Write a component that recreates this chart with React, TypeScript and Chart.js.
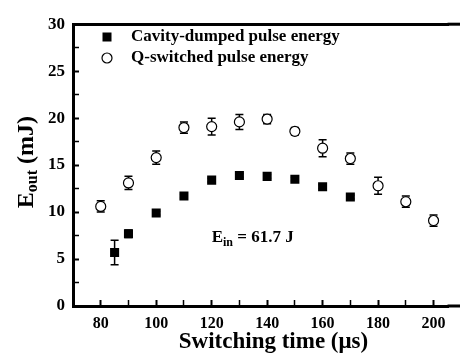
import React, { useEffect, useRef } from "react";
import { Chart, registerables } from "chart.js";
Chart.register(...registerables);

const FONT = "'Liberation Serif', 'Times New Roman', serif";

// Cavity-dumped pulse energy (filled squares)
const dumpedTimes = [85, 90, 100, 110, 120, 130, 140, 150, 160, 170];
const dumpedEnergy = [5.7, 7.7, 9.9, 11.7, 13.4, 13.9, 13.8, 13.5, 12.7, 11.6];
const dumpedError = [1.3, 0.4, 0.2, 0.2, 0.2, 0.2, 0.2, 0.2, 0.2, 0.2];

// Q-switched pulse energy (open circles)
const qTimes = [80, 90, 100, 110, 120, 130, 140, 150, 160, 170, 180, 190, 200];
const qEnergy = [10.6, 13.1, 15.8, 19.0, 19.1, 19.6, 19.9, 18.6, 16.8, 15.7, 12.8, 11.1, 9.1];
const qError = [0.6, 0.7, 0.7, 0.6, 0.9, 0.8, 0.5, 0.4, 0.9, 0.6, 0.9, 0.6, 0.6];

const xTickValues = [80, 100, 120, 140, 160, 180, 200];
const xMinorValues = [90, 110, 130, 150, 170, 190];
const yTickValues = [0, 5, 10, 15, 20, 25, 30];
const yMinorValues = [2.5, 7.5, 12.5, 17.5, 22.5, 27.5];

const legendLabels = ["Cavity-dumped pulse energy", "Q-switched pulse energy"];
const xTitle = "Switching time (\u03bcs)";
const yTitleMain = "E";
const yTitleSub = "out";
const yTitleRest = " (mJ)";
const noteMain = "E";
const noteSub = "in";
const noteRest = " = 61.7 J";
const noteX = 120;
const noteY = 7.3;

const X_MIN = 70;
const X_MAX = 205.4;

const customPlugin = {
  id: "custom",
  beforeDatasetsDraw(chart: any) {
    const ctx = chart.ctx;
    const x = chart.scales.x;
    const y = chart.scales.y;
    ctx.save();
    ctx.strokeStyle = "#000";
    ctx.lineWidth = 1.5;
    const drawErr = (xs: number[], ys: number[], es: number[]) => {
      for (let i = 0; i < xs.length; i++) {
        const px = x.getPixelForValue(xs[i]);
        const t = y.getPixelForValue(ys[i] + es[i]);
        const b = y.getPixelForValue(ys[i] - es[i]);
        ctx.beginPath();
        ctx.moveTo(px, t);
        ctx.lineTo(px, b);
        ctx.moveTo(px - 4, t);
        ctx.lineTo(px + 4, t);
        ctx.moveTo(px - 4, b);
        ctx.lineTo(px + 4, b);
        ctx.stroke();
      }
    };
    drawErr(dumpedTimes, dumpedEnergy, dumpedError);
    drawErr(qTimes, qEnergy, qError);
    ctx.restore();
  },
  afterDraw(chart: any) {
    const ctx = chart.ctx;
    const x = chart.scales.x;
    const y = chart.scales.y;
    const ca = chart.chartArea;
    const W = chart.width;
    ctx.save();
    ctx.fillStyle = "#000";
    ctx.strokeStyle = "#000";

    // extend top and bottom frame lines to the canvas edge
    ctx.fillRect(ca.right - 1, ca.top - 1.5, W - ca.right + 1, 3);
    ctx.fillRect(ca.right - 1, ca.bottom - 1.5, W - ca.right + 1, 3);

    // legend
    ctx.fillRect(107 - 4.5, 37 - 4.5, 9, 9);
    ctx.lineWidth = 1.2;
    ctx.beginPath();
    ctx.arc(107, 58, 5, 0, Math.PI * 2);
    ctx.stroke();
    ctx.font = `bold 17px ${FONT}`;
    ctx.textBaseline = "middle";
    ctx.textAlign = "left";
    ctx.fillText(legendLabels[0], 131, 37);
    ctx.fillText(legendLabels[1], 131, 58);

    // annotation E_in = 61.7 J
    const ax = x.getPixelForValue(noteX);
    const ay = y.getPixelForValue(noteY);
    ctx.font = `bold 17px ${FONT}`;
    ctx.textBaseline = "alphabetic";
    ctx.fillText(noteMain, ax, ay + 5);
    let w = ctx.measureText(noteMain).width;
    ctx.font = `bold 12px ${FONT}`;
    ctx.fillText(noteSub, ax + w, ay + 9);
    w += ctx.measureText(noteSub).width;
    ctx.font = `bold 17px ${FONT}`;
    ctx.fillText(noteRest, ax + w, ay + 5);

    // x title
    ctx.font = `bold 23px ${FONT}`;
    ctx.textAlign = "center";
    ctx.textBaseline = "middle";
    ctx.fillText(xTitle, (ca.left + W) / 2 + 7, 342);

    // y title (rotated)
    ctx.translate(27, (ca.top + ca.bottom) / 2 - 3);
    ctx.rotate(-Math.PI / 2);
    ctx.textAlign = "left";
    ctx.textBaseline = "middle";
    ctx.font = `bold 24px ${FONT}`;
    const w1 = ctx.measureText(yTitleMain).width;
    const w3 = ctx.measureText(yTitleRest).width;
    ctx.font = `bold 16px ${FONT}`;
    const w2 = ctx.measureText(yTitleSub).width;
    const total = w1 + w2 + w3;
    let cx = -total / 2;
    ctx.font = `bold 24px ${FONT}`;
    ctx.fillText(yTitleMain, cx, 0);
    cx += w1;
    ctx.font = `bold 16px ${FONT}`;
    ctx.fillText(yTitleSub, cx, 6);
    cx += w2;
    ctx.font = `bold 24px ${FONT}`;
    ctx.fillText(yTitleRest, cx, 0);
    ctx.restore();
  },
};

const allX = [...xTickValues, ...xMinorValues].sort((a, b) => a - b);
const allY = [...yTickValues, ...yMinorValues].sort((a, b) => a - b);

export default function App() {
  const ref = useRef<HTMLCanvasElement | null>(null);
  useEffect(() => {
    if (!ref.current) return;
    const chart = new Chart(ref.current, {
      type: "scatter",
      data: {
        datasets: [
          {
            label: legendLabels[0],
            data: dumpedTimes.map((t, i) => ({ x: t, y: dumpedEnergy[i] })),
            pointStyle: "rect",
            pointRadius: 6.4,
            backgroundColor: "#000",
            borderColor: "#000",
            borderWidth: 0,
            showLine: false,
          },
          {
            label: legendLabels[1],
            data: qTimes.map((t, i) => ({ x: t, y: qEnergy[i] })),
            pointStyle: "circle",
            pointRadius: 5,
            backgroundColor: "#fff",
            borderColor: "#000",
            borderWidth: 1.2,
            showLine: false,
          },
        ],
      },
      options: {
        animation: false,
        responsive: false,
        maintainAspectRatio: false,
        layout: { padding: { top: 10, right: 0, left: 0, bottom: 0 } },
        plugins: { legend: { display: false }, tooltip: { enabled: false } },
        scales: {
          x: {
            type: "linear",
            position: "bottom",
            min: X_MIN,
            max: X_MAX,
            grid: {
              display: true,
              drawOnChartArea: false,
              drawTicks: true,
              tickLength: -6,
              color: "#000",
              tickColor: "#000",
              tickWidth: (c: any) => (c.tick && xTickValues.includes(c.tick.value) ? 2 : 1.5),
            },
            border: { display: true, width: 3, color: "#000" },
            afterBuildTicks: (s: any) => {
              s.ticks = allX.map((v) => ({ value: v }));
            },
            afterFit: (s: any) => {
              s.height = 48;
            },
            ticks: {
              color: "#000",
              padding: 14,
              autoSkip: false,
              maxRotation: 0,
              callback: (v: any) => (xTickValues.includes(Number(v)) ? String(v) : ""),
              font: { family: FONT, size: 16, weight: "bold" },
            },
          },
          xTop: {
            type: "linear",
            position: "top",
            display: true,
            min: X_MIN,
            max: X_MAX,
            grid: { display: false, drawTicks: false },
            border: { display: true, width: 3, color: "#000" },
            ticks: { display: false },
            afterFit: (s: any) => {
              s.height = 0;
            },
          },
          y: {
            min: 0,
            max: 30,
            position: "left",
            grid: {
              display: true,
              drawOnChartArea: false,
              drawTicks: true,
              tickLength: -6,
              color: "#000",
              tickColor: "#000",
              tickWidth: (c: any) => (c.tick && yTickValues.includes(c.tick.value) ? 2 : 1.5),
            },
            border: { display: true, width: 3, color: "#000" },
            afterBuildTicks: (s: any) => {
              s.ticks = allY.map((v) => ({ value: v }));
            },
            afterFit: (s: any) => {
              s.width = 73;
            },
            ticks: {
              color: "#000",
              padding: 14,
              autoSkip: false,
              callback: (v: any) => (yTickValues.includes(Number(v)) ? String(v) : ""),
              font: { family: FONT, size: 17, weight: "bold" },
            },
          },
        },
      },
      plugins: [customPlugin],
    } as any);
    return () => chart.destroy();
  }, []);
  return (
    <div style={{ position: "fixed", left: 0, top: 0, width: 460, height: 354, background: "#fff" }}>
      <canvas ref={ref} width={460} height={354} style={{ display: "block" }} />
    </div>
  );
}
